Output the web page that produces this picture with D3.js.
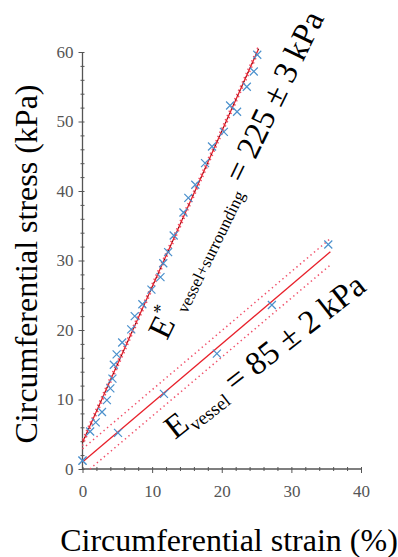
<!DOCTYPE html>
<html>
<head>
<meta charset="utf-8">
<script src="https://cdn.jsdelivr.net/npm/d3@7"></script>
<style>
  body { margin: 0; background: #fff; }
  svg { display: block; }
</style>
</head>
<body>
<svg id="chart"></svg>
<script>
// Stiff response (vessel + surrounding tissue)
const strainStiff = [0, 1.1, 1.9, 2.8, 3.5, 4.0, 4.3, 4.5, 4.9, 5.7, 7.0, 7.5, 8.6, 9.9, 11.2, 11.6, 12.3, 13.1, 14.5, 15.2, 16.2, 17.6, 18.6, 20.3, 21.2, 22.2, 23.6, 24.6, 25.1];
const stressStiff = [1.2, 5.4, 6.7, 8.2, 9.9, 11.6, 13.0, 15.0, 16.5, 18.2, 20.1, 22.0, 23.7, 25.8, 27.6, 29.6, 31.2, 33.6, 36.9, 39.0, 40.9, 44.0, 46.4, 48.5, 52.3, 51.4, 55.0, 57.2, 59.6];

// Vessel only
const strainVessel = [0, 5.1, 11.7, 19.3, 27.2, 35.3];
const stressVessel = [1.2, 5.2, 10.8, 16.6, 23.6, 32.3];

// Linear fits: intercept, slope, last strain, half width of dotted band
const fitNames = ["stiff", "vessel"];
const fitIntercepts = [3.8, 1.0];
const fitSlopes = [2.24, 0.85];
const fitEnds = [25.3, 35.6];
const fitBands = [0.45, 1.9];

const xTicks = [0, 10, 20, 30, 40];
const yTicks = [0, 10, 20, 30, 40, 50, 60];

const width = 398, height = 557;
const svg = d3.select("#chart").attr("width", width).attr("height", height);

const x = d3.scaleLinear().domain([0, 40]).range([82.5, 361]);
const y = d3.scaleLinear().domain([0, 60]).range([469, 52]);

const axisColor = "#555";
const serif = "'Liberation Serif', 'Times New Roman', serif";

// y axis with minor ticks every 2
const yAxis = svg.append("g")
  .attr("transform", `translate(${x(0)},0)`)
  .attr("font-family", serif)
  .call(d3.axisLeft(y).tickValues(d3.range(0, 61, 2)).tickSize(2)
    .tickFormat(d => yTicks.includes(d) ? d : ""));
yAxis.attr("font-family", serif);
yAxis.select(".domain").attr("stroke", axisColor).attr("stroke-width", 1.3).attr("d", `M0,${y(0)}V${y(60)}`);
yAxis.selectAll(".tick line").attr("stroke", axisColor).attr("x1", 2).attr("x2", d => yTicks.includes(d) ? -4 : -2);
yAxis.selectAll(".tick text").attr("x", -9).attr("fill", "#555")
  .style("font-family", serif).style("font-size", "17px");

// x axis
const xAxis = svg.append("g")
  .attr("transform", `translate(0,${y(0)})`)
  .call(d3.axisBottom(x).tickValues(d3.range(0, 41, 2)).tickSize(2)
    .tickFormat(d => xTicks.includes(d) ? d : ""));
xAxis.attr("font-family", serif);
xAxis.select(".domain").attr("stroke", axisColor).attr("stroke-width", 1.3).attr("d", `M${x(0)},0H${x(40)}`);
xAxis.selectAll(".tick line").attr("stroke", axisColor).attr("y1", -2).attr("y2", d => xTicks.includes(d) ? 4 : 2);
xAxis.selectAll(".tick text").attr("y", 16).attr("fill", "#555")
  .style("font-family", serif).style("font-size", "17px");

// fit lines with dotted bands
const line = d3.line().x(d => x(d[0])).y(d => y(d[1]));
fitNames.forEach((name, i) => {
  const a = fitIntercepts[i], b = fitSlopes[i], xe = fitEnds[i], w = fitBands[i];
  const pts = off => {
    const x0 = Math.max(0, (0 - a - off) / b);
    return [[x0, a + off + b * x0], [xe, a + off + b * xe]];
  };
  [w, -w].forEach(off => {
    svg.append("path").attr("d", line(pts(off)))
      .attr("fill", "none").attr("stroke", "#f0506a")
      .attr("stroke-width", 1.5).attr("stroke-dasharray", "1.4,3.2");
  });
  svg.append("path").attr("d", line(pts(0)))
    .attr("fill", "none").attr("stroke", "#e8202a").attr("stroke-width", 1.3);
  if (name === "stiff") {
    svg.append("path").attr("d", line(pts(0)))
      .attr("fill", "none").attr("stroke", "#3a1010")
      .attr("stroke-width", 1).attr("stroke-dasharray", "1,4");
  }
});

// crosses
const cross = (xs, ys) => {
  svg.append("g").selectAll("path")
    .data(xs.map((v, i) => [v, ys[i]]))
    .join("path")
    .attr("d", d => {
      const cx = x(d[0]), cy = y(d[1]), r = 4;
      return `M${cx - r},${cy - r}L${cx + r},${cy + r}M${cx - r},${cy + r}L${cx + r},${cy - r}`;
    })
    .attr("stroke", "#4a90cc").attr("stroke-width", 1.2).attr("fill", "none");
};
cross(strainStiff, stressStiff);
cross(strainVessel, stressVessel);

// axis titles
svg.append("text")
  .attr("transform", `translate(37,264) rotate(-90)`)
  .attr("text-anchor", "middle")
  .style("font-family", serif).style("font-size", "32px")
  .text("Circumferential stress (kPa)");

svg.append("text")
  .attr("x", 229).attr("y", 551)
  .attr("text-anchor", "middle")
  .style("font-family", serif).style("font-size", "32px")
  .text("Circumferential strain (%)");

// annotations
const note1 = svg.append("text")
  .attr("transform", "translate(167,341) rotate(-64)")
  .style("font-family", serif).style("font-size", "33px");
note1.append("tspan").text("E");
note1.append("tspan").attr("dy", -14).style("font-size", "19px").text("*");
note1.append("tspan").attr("dy", 20).attr("dx", 3).style("font-size", "17px").text("vessel+surrounding");
note1.append("tspan").attr("dy", -6).text(" = 225 ± 3 kPa");

const note2 = svg.append("text")
  .attr("transform", "translate(175,440) rotate(-38)")
  .style("font-family", serif).style("font-size", "33px");
note2.append("tspan").text("E");
note2.append("tspan").attr("dy", 6).attr("dx", 1).style("font-size", "19px").text("vessel");
note2.append("tspan").attr("dy", -6).text(" = 85 ± 2 kPa");
</script>
</body>
</html>
